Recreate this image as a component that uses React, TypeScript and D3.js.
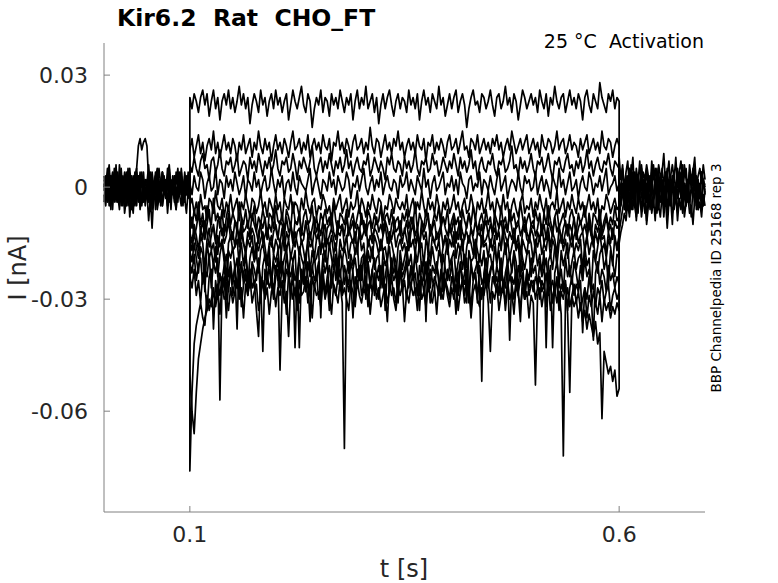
import React from "react";
import { scaleLinear, line } from "d3";

// currents in pA, sampled evenly across each segment
const preTraces: number[][] = [
  [0, 3, -2, 4, -4, 1, -3, 5, -1, 2, -5, 3, 0, -2, 4, -3, 1, -4, 2, 5, -2, 0, 3, -4, 1, 2, -3, 4, -1, 0, 3, -5, 2, -2, 4, 1, -3, 0, 5, -1, 2, -4, 3, 0, -2, 4, -3, 1, -1, 3, 0],
  [-2, -5, 1, -1, 3, -6, 2, -2, 4, -4, 0, -3, 2, -5, -1, 3, -6, 0, -3, 1, -2, 4, -5, -1, 2, -1, -4, 2, -6, 1, -2, 3, -4, 0, -5, 2, -1, -3, 1, -6, 3, -2, 0, -4, 2, -1, -5, 3, -2, 1, -3],
  [2, 0, 5, -3, 1, 4, -2, 3, -3, 6, 1, -1, 4, 2, -2, 3, 0, -3, 2, 5, 11, 13, 10, 12, 13, 11, 2, -1, 4, 0, 3, -2, 5, 1, -1, 3, -3, 2, 4, 0, -2, 3, 1, 5, -1, 2, -3, 4, 0, 2, 1],
  [-4, 1, -3, 2, -6, 3, -1, 0, -4, 2, -2, 1, -7, -3, 2, -8, -2, 1, -5, -1, 3, -6, -2, 0, -4, -1, -9, -3, -11, -2, 1, -6, -3, 0, -5, -2, 2, -7, -1, -4, 1, -3, -6, 0, -2, -5, 1, -3, -7, -1, -2],
  [3, -1, 2, 6, -2, 0, 4, -4, 1, -1, 5, -2, 3, 0, -3, 5, -1, 3, -2, 4, -4, 2, 0, 4, -3, 1, 6, -1, 3, -2, 2, 5, -3, 1, 4, 0, -2, 3, 6, -1, 2, -3, 4, 1, -1, 5, 0, 2, -2, 4, 1],
  [-1, 2, -4, 0, 3, -3, 5, 1, -2, -6, 2, 0, -4, 4, -5, 1, -3, -7, 1, -3, 3, -1, -4, 2, -5, 0, -2, 3, -4, 1, -6, 2, -1, -3, 4, -2, 0, -5, 2, -3, 1, -1, -6, 3, -2, 0, -4, 2, -1, -3, 0],
  [1, -3, 3, -5, 0, 2, -4, 6, -3, 3, -1, -5, 1, -2, 5, -4, 3, -2, 4, -5, 1, -4, 4, -3, 0, -2, 3, -6, 2, -1, 4, -3, 1, -5, 3, 0, -2, 5, -4, 2, -1, 3, -3, 0, 4, -2, 1, -4, 3, -1, 0],
];

const stepTraces: number[][] = [
  [24, 21, 25, 23, 20, 24, 26, 22, 25, 19, 23, 26, 21, 24, 18, 23, 25, 22, 26, 21,
   24, 20, 23, 27, 22, 25, 21, 24, 17, 22, 25, 23, 20, 26, 22, 24, 19, 23, 25, 21,
   26, 22, 24, 20, 23, 25, 18, 22, 26, 23, 21, 24, 27, 22, 20, 25, 23, 16, 21, 24,
   22, 26, 20, 24, 23, 19, 25, 22, 24, 21, 26, 23, 20, 24, 22, 25, 18, 23, 26, 21,
   24, 22, 27, 21, 23, 25, 20, 24, 17, 22, 25, 21, 24, 26, 22, 19, 23, 25, 21, 24,
   23, 20, 26, 22, 24, 21, 25, 18, 23, 26, 22, 24, 20, 25, 23, 21, 27, 22, 24, 19,
   22, 25, 21, 24, 26, 20, 23, 25, 22, 16, 21, 24, 26, 22, 23, 20, 25, 24, 21, 23,
   26, 22, 19, 24, 25, 21, 23, 27, 22, 24, 20, 25, 23, 18, 22, 26, 24, 21, 23, 25,
   22, 24, 20, 26, 23, 21, 25, 19, 24, 22, 27, 23, 21, 24, 25, 20, 23, 26, 22, 24,
   21, 25, 23, 18, 24, 26, 22, 20, 25, 23, 21, 28, 24, 22, 20, 25, 23, 26, 21, 24, 23],
  [10, 13, 8, 11, 14, 9, 12, 7, 11, 13, 10, 15, 9, 12, 8, 11, 14, 10, 12, 9,
   13, 11, 7, 12, 10, 14, 9, 11, 13, 8, 12, 10, 15, 11, 9, 13, 10, 12, 7, 11,
   14, 10, 12, 9, 13, 11, 8, 12, 15, 10, 11, 13, 9, 12, 10, 14, 8, 11, 13, 10,
   12, 9, 14, 11, 10, 13, 7, 12, 11, 15, 10, 12, 9, 13, 11, 8, 12, 14, 10, 11,
   13, 9, 12, 10, 16, 11, 9, 13, 12, 8, 11, 14, 10, 12, 9, 13, 11, 15, 10, 12,
   8, 11, 13, 10, 12, 9, 14, 11, 10, 13, 7, 12, 11, 14, 9, 12, 10, 13, 11, 8,
   12, 14, 10, 11, 13, 9, 12, 15, 10, 11, 8, 13, 12, 10, 14, 9, 11, 13, 10, 12,
   9, 13, 11, 14, 10, 12, 8, 11, 13, 10, 15, 12, 9, 11, 13, 10, 12, 14, 9, 11,
   13, 10, 12, 8, 14, 11, 10, 13, 12, 9, 11, 15, 10, 12, 13, 9, 11, 14, 10, 12,
   11, 8, 13, 10, 12, 14, 9, 11, 13, 10, 12, 9, 15, 11, 10, 13, 12, 8, 11, 13, 11],
  [6, 4, 8, 5, 3, 7, 9, 5, 6, 2, 7, 8, 4, 6, 10, 5, 3, 7, 6, 8,
   4, 6, 9, 3, 5, 7, 6, 2, 8, 5, 7, 4, 9, 6, 3, 7, 5, 8, 4, 6,
   10, 5, 3, 7, 6, 8, 4, 5, 9, 6, 2, 7, 5, 8, 6, 4, 7, 11, 5, 3,
   6, 8, 4, 7, 5, 9, 6, 3, 7, 5, 8, 4, 6, 10, 5, 7, 3, 6, 8, 5,
   4, 7, 6, 9, 3, 5, 8, 6, 4, 7, 5, 2, 8, 6, 9, 5, 4, 7, 6, 3,
   8, 5, 7, 4, 6, 10, 5, 3, 7, 6, 8, 4, 5, 9, 6, 7, 3, 5, 8, 6,
   4, 7, 5, 9, 6, 3, 8, 5, 7, 4, 6, 10, 5, 7, 2, 6, 8, 5, 4, 7,
   6, 9, 5, 3, 7, 6, 8, 4, 5, 7, 11, 5, 6, 3, 8, 5, 7, 4, 6, 9,
   5, 3, 7, 6, 8, 4, 6, 9, 5, 2, 7, 6, 8, 5, 4, 7, 9, 5, 6, 3,
   7, 5, 8, 4, 6, 10, 5, 7, 3, 6, 8, 5, 4, 7, 6, 9, 5, 3, 7, 6, 5],
  [1, -2, 3, 0, -1, 4, 2, -3, 1, 3, -1, 0, 5, -2, 2, 1, -3, 3, 0, 2,
   -1, 4, 1, -2, 0, 3, -3, 2, 1, -1, 4, 0, 2, -2, 1, 3, -1, 0, 5, 1,
   -2, 2, 0, 3, -3, 1, 2, -1, 4, 0, -2, 3, 1, 0, -1, 2, 5, -2, 1, 3,
   0, -3, 2, 1, -1, 4, 0, 2, -2, 3, 1, -1, 0, 4, 2, -3, 1, 0, 3, -1,
   2, 5, 0, -2, 1, 3, -1, 2, 0, 4, -2, 1, 3, 0, -1, 2, 1, -3, 3, 0,
   1, 4, -1, 2, 0, -2, 3, 1, -1, 5, 0, 2, -3, 1, 3, -1, 0, 2, 4, -2,
   1, 0, 3, -1, 2, -2, 4, 1, 0, -3, 2, 3, -1, 1, 0, 4, -2, 2, 1, -1,
   3, 0, -2, 2, 5, -1, 1, 3, -3, 0, 2, 1, -1, 4, 0, -2, 3, 1, 2, -1,
   0, 4, -2, 1, 3, -1, 2, 0, -3, 3, 1, -1, 5, 0, 2, -2, 1, 4, -1, 0,
   2, -3, 1, 3, 0, -1, 4, 2, -2, 1, 0, 3, -1, 2, 5, -2, 0, 1, 3, -1, 1],
  [-5, -3, -7, -4, -8, -2, -6, -5, -9, -3, -4, -7, -1, -5, -6, -3, -8, -4, -6, -2,
   -7, -5, -3, -9, -4, -6, -2, -5, -8, -3, -4, -7, -5, -1, -6, -4, -8, -3, -5, -7,
   -2, -6, -4, -9, -3, -5, -6, -2, -7, -4, -5, -8, -3, -6, -1, -5, -7, -4, -3, -8,
   -5, -6, -2, -4, -7, -5, -9, -3, -6, -4, -2, -7, -5, -3, -8, -4, -6, -5, -1, -7,
   -3, -5, -8, -4, -6, -2, -5, -7, -3, -4, -9, -5, -6, -2, -4, -7, -3, -5, -6, -4,
   -6, -2, -8, -5, -3, -7, -4, -6, -1, -5, -8, -3, -6, -4, -7, -2, -5, -9, -4, -6,
   -3, -7, -5, -2, -6, -4, -8, -5, -3, -7, -6, -2, -5, -9, -4, -6, -3, -7, -5, -1,
   -6, -4, -8, -3, -5, -7, -2, -6, -4, -9, -5, -3, -6, -8, -4, -2, -7, -5, -6, -3,
   -8, -4, -6, -2, -5, -7, -3, -9, -5, -4, -6, -1, -7, -5, -3, -8, -4, -6, -2, -5,
   -7, -3, -6, -4, -8, -5, -2, -6, -4, -7, -3, -9, -5, -6, -2, -4, -7, -5, -3, -6, -5],
  [-8, -11, -6, -9, -4, -10, -7, -12, -5, -8, -10, -3, -9, -7, -11, -6, -13, -8, -5, -10,
   -7, -9, -12, -4, -8, -10, -6, -11, -7, -9, -5, -12, -8, -10, -6, -9, -14, -7, -8, -11,
   -5, -9, -10, -7, -12, -6, -8, -11, -4, -9, -10, -7, -13, -8, -6, -10, -9, -5, -11, -8,
   -12, -7, -9, -6, -10, -8, -11, -4, -9, -12, -7, -8, -10, -6, -13, -9, -7, -11, -8, -5,
   -10, -9, -12, -6, -8, -11, -7, -10, -9, -5, -12, -8, -7, -10, -6, -11, -9, -8, -13, -7,
   -9, -6, -11, -8, -10, -4, -12, -7, -9, -11, -6, -8, -13, -10, -7, -9, -5, -11, -8, -10,
   -6, -12, -9, -7, -10, -8, -14, -6, -9, -11, -7, -10, -5, -8, -12, -9, -7, -11, -6, -10,
   -8, -13, -7, -9, -11, -5, -10, -8, -12, -6, -9, -7, -11, -10, -4, -8, -12, -9, -7, -10,
   -11, -6, -9, -8, -13, -7, -10, -5, -9, -12, -8, -6, -11, -9, -7, -10, -13, -8, -6, -9,
   -12, -7, -10, -8, -5, -11, -9, -13, -7, -8, -10, -6, -12, -9, -7, -11, -8, -10, -5, -9, -8],
  [-10, -8, -13, -11, -7, -12, -9, -14, -10, -6, -12, -11, -15, -9, -8, -13, -10, -12, -7, -11,
   -14, -9, -10, -16, -8, -12, -11, -9, -13, -7, -10, -12, -15, -9, -11, -8, -13, -10, -12, -6,
   -11, -14, -9, -10, -13, -8, -12, -11, -15, -9, -10, -7, -12, -13, -10, -9, -14, -11, -8, -12,
   -10, -13, -9, -16, -11, -10, -7, -12, -14, -9, -11, -10, -13, -8, -12, -11, -9, -15, -10, -12,
   -7, -11, -13, -10, -9, -14, -11, -8, -12, -10, -13, -9, -11, -15, -10, -8, -12, -11, -9, -13,
   -12, -9, -14, -10, -8, -13, -11, -16, -9, -12, -10, -7, -13, -11, -9, -14, -12, -10, -8, -11,
   -13, -10, -12, -8, -15, -11, -9, -12, -14, -10, -7, -11, -13, -9, -12, -10, -16, -11, -9, -13,
   -10, -12, -8, -14, -11, -9, -13, -10, -12, -7, -11, -15, -10, -9, -13, -11, -8, -12, -14, -10,
   -9, -13, -11, -7, -12, -10, -14, -9, -11, -13, -8, -12, -10, -15, -11, -9, -13, -10, -12, -8,
   -14, -11, -9, -12, -10, -13, -7, -11, -15, -10, -12, -9, -13, -11, -8, -12, -10, -14, -9, -11, -10],
  [-12, -15, -10, -13, -17, -11, -14, -9, -12, -16, -13, -10, -14, -18, -12, -11, -15, -13, -9, -14,
   -12, -16, -11, -13, -10, -15, -17, -12, -14, -11, -13, -19, -12, -10, -15, -13, -11, -14, -16, -12,
   -10, -13, -15, -11, -17, -12, -14, -10, -13, -16, -12, -11, -15, -14, -9, -13, -12, -16, -11, -14,
   -13, -18, -12, -10, -15, -13, -11, -14, -17, -12, -13, -10, -16, -14, -11, -13, -15, -12, -18, -11,
   -14, -12, -10, -16, -13, -15, -11, -12, -14, -17, -13, -10, -15, -12, -14, -11, -16, -13, -12, -15,
   -11, -14, -17, -12, -10, -15, -13, -16, -11, -14, -12, -18, -10, -13, -15, -12, -14, -11, -16, -13,
   -15, -11, -13, -16, -12, -14, -10, -17, -13, -12, -15, -11, -14, -19, -12, -13, -10, -15, -14, -12,
   -16, -13, -11, -14, -12, -17, -10, -13, -15, -12, -14, -11, -16, -13, -18, -12, -10, -14, -15, -11,
   -13, -17, -12, -14, -10, -15, -13, -11, -16, -12, -14, -18, -11, -13, -15, -12, -10, -14, -16, -13,
   -11, -15, -13, -12, -17, -14, -10, -13, -16, -12, -15, -11, -14, -13, -18, -12, -15, -11, -14, -16, -13],
  [-14, -17, -12, -16, -19, -13, -15, -22, -14, -11, -17, -15, -20, -13, -16, -14, -18, -25, -15, -13,
   -17, -16, -14, -21, -12, -15, -18, -14, -16, -13, -19, -15, -17, -14, -12, -16, -20, -15, -13, -18,
   -14, -16, -23, -15, -13, -17, -14, -19, -16, -12, -15, -18, -14, -17, -21, -13, -16, -15, -19, -14,
   -12, -17, -15, -20, -14, -16, -13, -18, -15, -22, -14, -17, -16, -13, -19, -15, -14, -18, -16, -12,
   -17, -15, -21, -14, -16, -19, -13, -15, -18, -14, -17, -16, -20, -13, -15, -18, -24, -16, -14, -17,
   -15, -19, -13, -16, -14, -18, -12, -17, -15, -21, -14, -16, -19, -13, -15, -17, -14, -20, -16, -13,
   -18, -14, -16, -12, -19, -15, -17, -14, -22, -16, -13, -15, -18, -14, -17, -20, -13, -16, -15, -19,
   -14, -17, -13, -21, -15, -16, -12, -18, -14, -19, -16, -13, -17, -15, -23, -14, -16, -18, -13, -15,
   -20, -14, -16, -13, -18, -15, -17, -12, -19, -14, -16, -21, -15, -13, -17, -14, -19, -16, -12, -18,
   -15, -17, -14, -22, -16, -13, -18, -15, -14, -20, -16, -12, -17, -15, -19, -14, -16, -21, -13, -17, -15],
  [-17, -20, -15, -19, -23, -16, -18, -28, -15, -19, -17, -21, -16, -24, -18, -15, -20, -30, -17, -19,
   -16, -22, -38, -18, -15, -21, -17, -26, -19, -16, -20, -18, -23, -17, -15, -19, -21, -16, -27, -18,
   -20, -17, -15, -22, -19, -16, -24, -18, -20, -17, -29, -16, -19, -21, -18, -15, -23, -17, -20, -19,
   -16, -35, -18, -17, -21, -15, -19, -22, -18, -26, -17, -20, -16, -19, -23, -18, -21, -17, -15, -24,
   -19, -18, -30, -17, -20, -16, -22, -19, -18, -27, -17, -21, -19, -16, -23, -18, -20, -25, -17, -22,
   -19, -16, -21, -18, -24, -17, -20, -15, -22, -19, -36, -18, -21, -16, -20, -23, -17, -19, -28, -18,
   -15, -21, -19, -17, -24, -20, -16, -22, -18, -31, -17, -20, -19, -15, -23, -18, -21, -17, -26, -19,
   -18, -22, -16, -20, -17, -25, -19, -15, -21, -18, -23, -17, -20, -29, -16, -19, -22, -18, -17, -24,
   -19, -16, -21, -18, -23, -17, -43, -20, -18, -22, -16, -19, -27, -17, -21, -18, -15, -24, -20, -17,
   -22, -19, -18, -25, -16, -21, -19, -28, -17, -20, -23, -18, -16, -22, -19, -26, -17, -20, -24, -18, -19],
  [-20, -23, -18, -25, -21, -19, -26, -22, -24, -18, -27, -20, -23, -19, -57, -25, -21, -18, -24, -20,
   -26, -22, -19, -29, -21, -24, -18, -23, -27, -20, -22, -25, -19, -31, -21, -18, -24, -22, -26, -20,
   -23, -19, -27, -21, -25, -18, -22, -24, -20, -43, -23, -19, -26, -21, -28, -20, -24, -22, -18, -25,
   -21, -27, -19, -23, -20, -30, -22, -18, -25, -21, -24, -19, -26, -23, -20, -28, -22, -19, -24, -21,
   -25, -18, -23, -20, -27, -22, -19, -24, -21, -26, -20, -33, -22, -25, -19, -23, -21, -28, -20, -24,
   -22, -19, -26, -21, -24, -18, -23, -29, -20, -25, -22, -19, -27, -21, -23, -20, -26, -24, -18, -22,
   -25, -21, -19, -28, -22, -24, -20, -26, -23, -19, -31, -21, -24, -22, -20, -27, -52, -23, -19, -25,
   -22, -20, -26, -21, -24, -19, -28, -23, -20, -25, -22, -18, -27, -21, -24, -20, -30, -22, -25, -19,
   -23, -21, -27, -20, -24, -22, -19, -26, -21, -43, -23, -20, -25, -22, -28, -19, -24, -21, -26, -20,
   -23, -27, -21, -25, -19, -24, -22, -29, -41, -23, -20, -26, -22, -24, -28, -21, -25, -23, -27, -24, -26],
  [-24, -27, -22, -29, -25, -31, -23, -26, -33, -24, -22, -38, -25, -30, -23, -27, -24, -35, -26, -22,
   -29, -25, -27, -23, -32, -26, -24, -28, -22, -27, -25, -33, -40, -24, -26, -29, -23, -27, -25, -30,
   -24, -22, -49, -28, -26, -34, -23, -27, -25, -29, -24, -31, -26, -22, -28, -25, -36, -24, -27, -23,
   -30, -26, -24, -28, -25, -33, -22, -27, -29, -24, -26, -31, -70, -23, -28, -25, -35, -24, -27, -22,
   -29, -26, -24, -32, -25, -28, -23, -27, -30, -24, -26, -28, -36, -25, -29, -27, -31, -26, -23, -28,
   -25, -30, -24, -27, -22, -29, -26, -33, -24, -28, -25, -23, -31, -27, -24, -26, -29, -22, -28, -25,
   -27, -30, -24, -26, -34, -23, -28, -25, -29, -24, -27, -32, -25, -23, -28, -26, -30, -24, -27, -25,
   -31, -24, -26, -28, -23, -29, -25, -33, -27, -24, -26, -30, -25, -28, -36, -24, -27, -23, -29, -26,
   -25, -30, -27, -24, -28, -26, -32, -23, -27, -25, -29, -24, -31, -26, -28, -25, -33, -27, -24, -29,
   -26, -28, -25, -39, -27, -30, -24, -28, -26, -32, -27, -29, -25, -31, -28, -26, -33, -29, -27, -30, -28],
  [-76, -55, -42, -37, -34, -31, -35, -37, -29, -33, -30, -27, -32, -28, -34, -26, -30, -29, -33, -27,
   -31, -28, -25, -30, -27, -35, -26, -29, -24, -31, -28, -26, -33, -29, -25, -30, -27, -34, -28, -26,
   -32, -27, -29, -25, -31, -28, -40, -26, -30, -27, -33, -25, -29, -28, -24, -31, -27, -35, -26, -29,
   -28, -32, -25, -30, -27, -29, -34, -26, -28, -31, -25, -29, -27, -30, -33, -26, -28, -32, -25, -29,
   -31, -27, -29, -26, -34, -28, -25, -30, -27, -32, -29, -26, -31, -28, -24, -30, -33, -27, -29, -26,
   -36, -28, -31, -26, -29, -27, -33, -25, -30, -28, -32, -26, -29, -31, -27, -34, -26, -28, -30, -25,
   -29, -32, -27, -30, -26, -33, -28, -25, -31, -29, -27, -35, -28, -26, -30, -32, -27, -29, -25, -31,
   -44, -28, -30, -26, -33, -29, -27, -31, -25, -30, -28, -34, -26, -29, -32, -27, -30, -28, -35, -29,
   -31, -53, -29, -27, -32, -28, -30, -26, -33, -29, -27, -31, -28, -34, -72, -30, -27, -32, -29, -26,
   -31, -28, -33, -30, -27, -35, -29, -32, -28, -31, -34, -29, -36, -30, -33, -31, -35, -32, -34, -31, -33],
  [-50, -60, -66, -55, -46, -42, -38, -35, -33, -30, -32, -28, -31, -26, -29, -24, -27, -23, -28, -22,
   -25, -21, -27, -23, -20, -26, -22, -29, -24, -21, -27, -23, -20, -25, -44, -22, -26, -19, -24, -28,
   -21, -25, -23, -20, -27, -22, -24, -30, -21, -25, -23, -43, -22, -26, -20, -24, -28, -21, -25, -23,
   -20, -26, -22, -29, -24, -21, -27, -23, -19, -25, -22, -28, -21, -24, -26, -20, -23, -30, -22, -25,
   -21, -27, -24, -20, -26, -22, -29, -23, -25, -21, -27, -24, -20, -28, -22, -25, -23, -31, -21, -26,
   -24, -20, -27, -22, -25, -23, -29, -21, -26, -24, -20, -28, -22, -25, -27, -21, -24, -30, -23, -26,
   -22, -25, -20, -27, -23, -29, -21, -24, -26, -22, -28, -20, -25, -23, -31, -21, -26, -24, -22, -27,
   -23, -20, -26, -24, -29, -22, -25, -27, -21, -41, -24, -26, -22, -28, -25, -23, -30, -24, -27, -25,
   -28, -24, -26, -30, -25, -27, -23, -29, -26, -31, -27, -25, -33, -28, -30, -26, -34, -55, -29, -32,
   -30, -35, -31, -36, -33, -38, -34, -37, -40, -36, -42, -39, -62, -44, -47, -50, -48, -52, -49, -56, -54],
];

const postTraces: number[][] = [
  [-12, -9, -6, -3, 1, -4, 3, -2, 4, -1, 3, -5, 1, 5, -2, 2, -4, 3, -1, 4, -3, 0, 5, -2, 3, -4, 1, 4, -1, 2, -5, 3, 0, -3, 4, -1, 2, 6, -2, 1, -4, 3, 0, -2, 5, -1, 2, -3, 4, 0, 1],
  [-6, -3, 1, -5, 3, -2, 5, -6, 0, -3, 2, -7, 1, -2, -5, 3, -4, 1, -6, 2, -3, -1, 3, -5, 0, 2, -4, 1, -7, 0, -2, 3, -5, 1, -3, -1, 4, -6, 0, -2, 2, -4, -1, 3, -5, 1, -3, 0, -6, 2, -1],
  [3, -2, 5, 0, -4, 2, -1, 6, -3, 4, 0, 3, -2, 6, 1, -3, 5, 0, 3, -2, 6, 0, -2, 4, -1, 5, 1, -3, 3, 7, -1, 2, 4, -2, 5, 0, 3, -1, 6, 2, -2, 4, 0, 5, -1, 3, 1, -3, 4, 2, 0],
  [-15, -12, -10, -7, -9, -4, -8, -2, -6, 1, -9, -3, -1, -8, -4, 0, -10, -5, -2, -7, -3, -9, 0, -5, -8, -2, -6, -3, -11, -4, -1, -7, -5, -2, -9, -3, -6, 0, -8, -4, -2, -7, -5, -10, -3, -1, -6, -4, -8, -2, -5],
  [8, 2, 6, -1, 4, 7, 0, 3, 8, -2, 5, 1, 7, -1, 4, 2, 6, 3, -1, 7, 2, 5, 0, 6, 3, 4, 9, 1, 5, -1, 3, 6, 2, 8, 0, 4, 7, 1, 3, 5, -2, 6, 2, 4, 8, 0, 3, 5, 1, 6, 2],
  [-9, -4, 0, -6, -2, 3, -7, -1, 2, -5, -8, 1, -3, -6, 2, -2, -9, -1, 1, -6, -3, 2, -7, -1, -4, 0, -8, -2, 1, -5, -3, -10, 0, -4, -6, 2, -2, -7, -1, -5, 1, -3, -8, 0, -4, -2, -6, 1, -3, -5, -1],
  [1, -5, -2, 2, -7, 0, -4, 3, -3, -1, 4, -6, -1, 2, -3, -7, 1, -4, 3, -2, -5, 1, -3, -6, 2, -2, 0, -5, 3, -1, -4, 2, -6, 0, -2, 4, -3, -1, 1, -5, 2, -4, 0, -2, 3, -6, 1, -1, -3, 2, -2],
];

const yTicks = [-0.06, -0.03, 0, 0.03];
const yTickLabels = ["-0.06", "-0.03", "0", "0.03"];
const xTicks = [0.1, 0.6];
const xTickLabels = ["0.1", "0.6"];

const T_START = 0;
const STEP_ON = 0.1;
const STEP_OFF = 0.6;
const T_END = 0.7;

const W = 778;
const H = 583;
const FONT = "'DejaVu Sans', sans-serif";
const AXIS = "#808080";
const TEXT = "#262626";

type Pt = [number, number];

function segment(values: number[], t0: number, t1: number): Pt[] {
  const dt = (t1 - t0) / (values.length - 1);
  return values.map((v, i) => [t0 + i * dt, v / 1000] as Pt);
}

export default function App() {
  const x = scaleLinear().domain([T_START, T_END]).range([104, 705]);
  const y = scaleLinear().domain([-0.087, 0.0386]).range([512, 43]);
  const path = line<Pt>()
    .x((d) => x(d[0]))
    .y((d) => y(d[1]));

  const pre = preTraces.map((v) => segment(v, T_START, STEP_ON));
  const post = postTraces.map((v) => segment(v, STEP_OFF, T_END));
  const step = stepTraces.map((v, i) => {
    const a = preTraces[i % preTraces.length];
    const b = postTraces[i % postTraces.length];
    return [
      [STEP_ON, a[a.length - 1] / 1000] as Pt,
      ...segment(v, STEP_ON, STEP_OFF),
      [STEP_OFF, b[0] / 1000] as Pt,
    ];
  });

  const [x0, x1] = x.range();
  const [yb, yt] = y.range();

  return (
    <svg
      width={W}
      height={H}
      style={{ position: "absolute", left: 0, top: 0, background: "#fff" }}
      fontFamily={FONT}
    >
      {/* traces */}
      <g fill="none" stroke="#000" strokeWidth={1.7} strokeLinejoin="round">
        {pre.map((d, i) => (
          <path key={`pre-${i}`} d={path(d) ?? ""} />
        ))}
        {post.map((d, i) => (
          <path key={`post-${i}`} d={path(d) ?? ""} />
        ))}
        {step.map((d, i) => (
          <path key={`step-${i}`} d={path(d) ?? ""} />
        ))}
      </g>

      {/* axes */}
      <g stroke={AXIS} strokeWidth={1}>
        <line x1={x0} x2={x0} y1={yb} y2={yt} />
        <line x1={x0} x2={x1} y1={yb} y2={yb} />
        {yTicks.map((t, i) => (
          <line key={`yt-${i}`} x1={x0} x2={x0 + 6} y1={y(t)} y2={y(t)} />
        ))}
        {xTicks.map((t, i) => (
          <line key={`xt-${i}`} x1={x(t)} x2={x(t)} y1={yb} y2={yb - 6} />
        ))}
      </g>

      {yTicks.map((t, i) => (
        <text
          key={`yl-${i}`}
          x={x0 - 16}
          y={y(t)}
          dy="0.35em"
          textAnchor="end"
          fontSize={22}
          fill={TEXT}
        >
          {yTickLabels[i]}
        </text>
      ))}
      {xTicks.map((t, i) => (
        <text
          key={`xl-${i}`}
          x={x(t)}
          y={yb + 30}
          textAnchor="middle"
          fontSize={22}
          fill={TEXT}
        >
          {xTickLabels[i]}
        </text>
      ))}

      <text x={404} y={577} textAnchor="middle" fontSize={24} fill={TEXT}>
        t [s]
      </text>
      <text
        transform={`translate(26, 268) rotate(-90)`}
        textAnchor="middle"
        fontSize={24}
        fill={TEXT}
      >
        I [nA]
      </text>

      <text x={117} y={26} fontSize={23.5} fontWeight="bold" fill="#000">
        Kir6.2{"\u00a0\u00a0"}Rat{"\u00a0\u00a0"}CHO_FT
      </text>
      <text x={704} y={48} textAnchor="end" fontSize={19} fill="#000">
        25 °C{"\u00a0\u00a0"}Activation
      </text>
      <text
        transform={`translate(721, 278) rotate(-90)`}
        textAnchor="middle"
        fontSize={13.5}
        fill="#000"
      >
        BBP Channelpedia ID 25168 rep 3
      </text>
    </svg>
  );
}
